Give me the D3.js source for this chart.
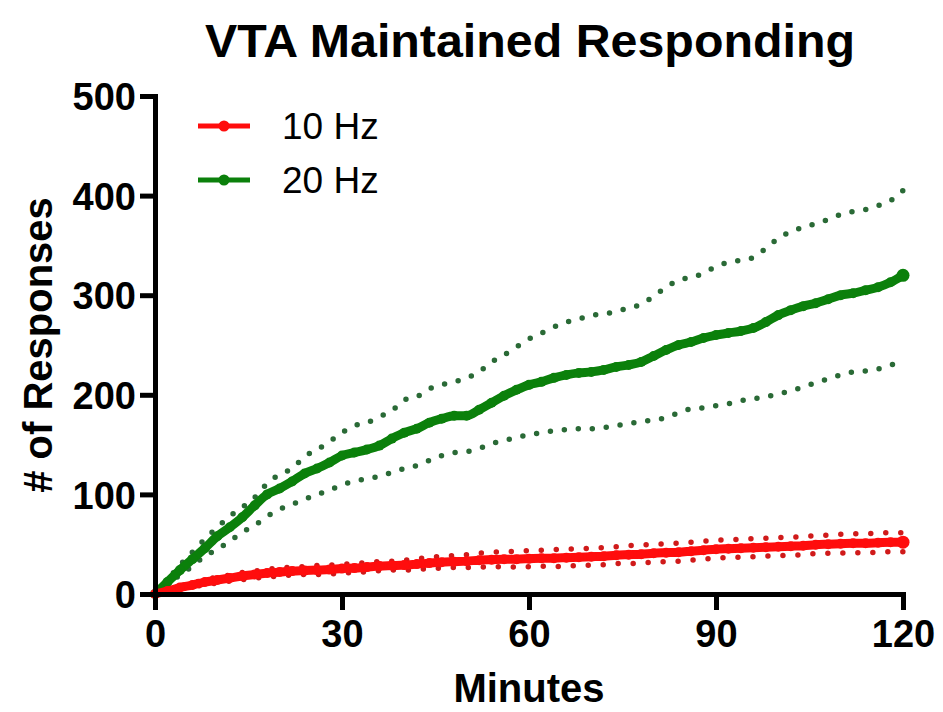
<!DOCTYPE html>
<html>
<head>
<meta charset="utf-8">
<script src="https://cdn.jsdelivr.net/npm/d3@7"></script>
<style>
  body { margin: 0; background: #fff; }
  svg { display: block; font-family: "Liberation Sans", Arial, sans-serif; }
</style>
</head>
<body>
<div id="chart"></div>
<script>
// minutes sampled every 2 min
const minutes = d3.range(0, 121, 2);

const hz20Mean = [0, 12, 24, 35, 46, 58, 67, 77, 89, 100, 106, 113, 121, 126, 132, 139, 142, 145, 149, 156,
  162, 166, 172, 176, 179, 179, 185, 192, 199, 205, 210, 213, 217, 220, 222, 223, 225, 228, 230, 233,
  239, 245, 250, 253, 257, 260, 262, 264, 267, 273, 280, 285, 289, 292, 296, 300, 302, 305, 308, 313, 320];
const hz20Upper = [0, 14, 29, 42, 55, 67, 78, 87, 97, 111, 120, 126, 138, 145, 153, 162, 169, 172, 178, 184,
  195, 198, 206, 210, 213, 217, 223, 233, 240, 248, 256, 262, 268, 273, 276, 280, 281, 284, 287, 291,
  299, 308, 315, 318, 322, 329, 333, 335, 338, 347, 357, 364, 368, 372, 376, 381, 384, 386, 390, 395, 405];
const hz20Lower = [0, 10, 19, 28, 38, 45, 53, 62, 69, 78, 85, 90, 95, 100, 104, 110, 113, 116, 118, 122,
  126, 129, 134, 139, 142, 143, 146, 151, 154, 157, 160, 162, 164, 165, 166, 166, 167, 169, 171, 173,
  175, 177, 182, 186, 187, 189, 191, 194, 196, 198, 201, 204, 208, 212, 216, 220, 223, 224, 226, 230, 232];

const hz10Mean = [0, 3, 6.5, 9, 12, 14, 16, 18, 19.5, 21, 22, 23, 23.5, 24, 24.5, 25.5, 26, 27, 28, 28.5,
  29, 30, 31, 32, 32.5, 33, 34, 34.5, 35, 35, 35.5, 36, 36, 36.5, 37, 37.5, 38, 39, 39.5, 40,
  41, 41.5, 42, 43, 44, 45, 45.5, 46, 46.5, 47, 47.5, 48, 48.5, 49.5, 50, 50.5, 51, 51, 51.5, 52, 52];
const hz10Upper = [0, 4, 8, 11, 14.5, 17, 19, 21.5, 23, 25, 26, 27, 27.5, 28.5, 29, 30, 30.5, 31.5, 32.5, 33,
  34, 35.5, 36.5, 38, 38.5, 39.5, 41, 42, 42.5, 43, 43.5, 44, 44.5, 45, 45.5, 46, 46.5, 47.5, 48.5, 49,
  50, 50.5, 51, 52, 53, 54, 54.5, 55, 55.5, 56, 56.5, 57, 57.5, 58.5, 59, 60, 60.5, 60.5, 61, 61.5, 61.5];
const hz10Lower = [0, 2, 5, 7, 9.5, 11, 13, 14.5, 16, 17, 18, 19, 19.5, 19.5, 20, 21, 21.5, 22.5, 23.5, 24,
  24, 24.5, 25.5, 26, 26.5, 26.5, 27, 27, 27.5, 27, 27.5, 28, 27.5, 28, 28.5, 29, 29.5, 30.5, 30.5, 31,
  32, 32.5, 33, 34, 35, 36, 36.5, 37, 37.5, 38, 38.5, 39, 39.5, 40.5, 41, 41, 41.5, 41.5, 42, 42.5, 42.5];

const xTicks = [0, 30, 60, 90, 120];
const yTicks = [0, 100, 200, 300, 400, 500];
const seriesNames = ["10 Hz", "20 Hz"];

const width = 943, height = 712;
const margin = { top: 96, right: 40, bottom: 118, left: 155 };

const svg = d3.select("#chart")
  .append("svg")
  .attr("width", width)
  .attr("height", height);

const x = d3.scaleLinear().domain([0, 120]).range([margin.left, 903]);
const y = d3.scaleLinear().domain([0, 500]).range([594, margin.top]);

const series = [
  { name: seriesNames[0], mean: hz10Mean, upper: hz10Upper, lower: hz10Lower, color: "#ff0d0d", dot: "#d01a1a", gap: 15 },
  { name: seriesNames[1], mean: hz20Mean, upper: hz20Upper, lower: hz20Lower, color: "#0b800b", dot: "#2a6a36", gap: 14 }
];

const line = d3.line()
  .x(d => x(d[0]))
  .y(d => y(d[1]))
  .curve(d3.curveMonotoneX);

// green first so red sits on top near the origin
series.slice().reverse().forEach(s => {
  const g = svg.append("g");
  [s.upper, s.lower].forEach(band => {
    g.append("path")
      .datum(minutes.map((m, i) => [m, band[i]]))
      .attr("d", line)
      .attr("fill", "none")
      .attr("stroke", s.dot)
      .attr("stroke-width", 5.5)
      .attr("stroke-linecap", "round")
      .attr("stroke-dasharray", `0,${s.gap}`);
  });
  const pts = minutes.map((m, i) => [m, s.mean[i]]);
  g.append("path")
    .datum(pts)
    .attr("d", line)
    .attr("fill", "none")
    .attr("stroke", s.color)
    .attr("stroke-width", 9);
  g.selectAll("circle")
    .data(pts)
    .enter()
    .append("circle")
    .attr("cx", d => x(d[0]))
    .attr("cy", d => y(d[1]))
    .attr("r", (d, i) => i === pts.length - 1 ? 6.5 : 5)
    .attr("fill", s.color);
});

// axes
const xAxis = svg.append("g")
  .attr("transform", `translate(0,594)`)
  .call(d3.axisBottom(x).tickValues(xTicks).tickSize(16).tickSizeOuter(0).tickPadding(10));
const yAxis = svg.append("g")
  .attr("transform", `translate(${margin.left},0)`)
  .call(d3.axisLeft(y).tickValues(yTicks).tickSize(15).tickSizeOuter(0).tickPadding(4));

[xAxis, yAxis].forEach(a => {
  a.select(".domain").attr("stroke", "#000").attr("stroke-width", 5).attr("stroke-linecap", "square");
  a.selectAll(".tick line").attr("stroke", "#000").attr("stroke-width", 5);
  a.selectAll(".tick text")
    .attr("fill", "#000")
    .style("font-size", "38px")
    .style("font-weight", "bold")
    .style("font-family", "'Liberation Sans', Arial, sans-serif");
});
yAxis.selectAll(".tick text").attr("dy", "0.36em");

// title and axis labels
svg.append("text")
  .attr("x", 530)
  .attr("y", 57)
  .attr("text-anchor", "middle")
  .style("font-size", "46px")
  .style("font-weight", "bold")
  .attr("textLength", 650)
  .attr("lengthAdjust", "spacingAndGlyphs")
  .text("VTA Maintained Responding");

svg.append("text")
  .attr("x", 529)
  .attr("y", 702)
  .attr("text-anchor", "middle")
  .style("font-size", "40px")
  .style("font-weight", "bold")
  .text("Minutes");

svg.append("text")
  .attr("transform", "translate(52,345) rotate(-90)")
  .attr("text-anchor", "middle")
  .style("font-size", "40px")
  .style("font-weight", "bold")
  .text("# of Responses");

// legend
const legend = svg.append("g").attr("transform", "translate(198,126)");
series.forEach((s, i) => {
  const row = legend.append("g").attr("transform", `translate(0,${i * 54})`);
  row.append("line")
    .attr("x1", 0).attr("x2", 52)
    .attr("stroke", s.color)
    .attr("stroke-width", 5);
  row.append("circle")
    .attr("cx", 26)
    .attr("r", 5.5)
    .attr("fill", s.color);
  row.append("text")
    .attr("x", 84)
    .attr("dy", "0.36em")
    .style("font-size", "37px")
    .text(s.name);
});
</script>
</body>
</html>
